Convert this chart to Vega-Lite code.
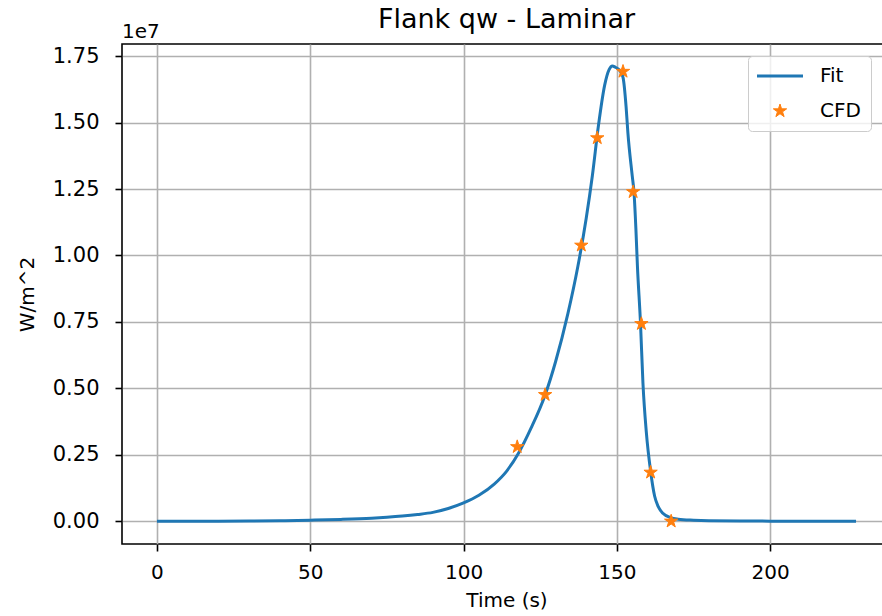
{
  "$schema": "https://vega.github.io/schema/vega-lite/v6.json",
  "autosize": "none",
  "padding": {"left": 122, "top": 44, "right": 0, "bottom": 72},
  "width": 769,
  "height": 500,
  "background": "white",
  "title": {"text": "Flank qw - Laminar", "fontSize": 27, "font": "DejaVu Sans", "fontWeight": "normal", "color": "black", "anchor": "middle", "baseline": "alphabetic", "offset": 0, "dy": 33, "frame": "group"},
  "config": {
    "view": {"stroke": "black", "strokeWidth": 1.6},
    "axis": {
      "grid": true, "gridColor": "#b0b0b0", "gridWidth": 1.6, "gridOpacity": 1,
      "domain": false,
      "ticks": true, "tickColor": "black", "tickSize": 7, "tickWidth": 1.6,
      "labelFont": "DejaVu Sans", "labelFontSize": 20, "labelColor": "black",
      "titleFont": "DejaVu Sans", "titleFontSize": 20, "titleFontWeight": "normal", "titleColor": "black"
    }
  },
  "datasets": {
    "fit": [
      {"t": 0, "q": 0, "series": "Fit"},
      {"t": 20, "q": 5000, "series": "Fit"},
      {"t": 40, "q": 20000, "series": "Fit"},
      {"t": 50, "q": 40000, "series": "Fit"},
      {"t": 60, "q": 70000, "series": "Fit"},
      {"t": 70, "q": 115000, "series": "Fit"},
      {"t": 75, "q": 150000, "series": "Fit"},
      {"t": 80, "q": 195000, "series": "Fit"},
      {"t": 85, "q": 255000, "series": "Fit"},
      {"t": 90, "q": 335000, "series": "Fit"},
      {"t": 95, "q": 480000, "series": "Fit"},
      {"t": 100, "q": 690000, "series": "Fit"},
      {"t": 105, "q": 980000, "series": "Fit"},
      {"t": 110, "q": 1400000, "series": "Fit"},
      {"t": 114, "q": 1880000, "series": "Fit"},
      {"t": 118, "q": 2580000, "series": "Fit"},
      {"t": 122, "q": 3500000, "series": "Fit"},
      {"t": 126.6, "q": 4750000, "series": "Fit"},
      {"t": 130, "q": 6000000, "series": "Fit"},
      {"t": 134, "q": 7800000, "series": "Fit"},
      {"t": 137.3, "q": 9600000, "series": "Fit"},
      {"t": 140, "q": 11400000, "series": "Fit"},
      {"t": 142, "q": 13000000, "series": "Fit"},
      {"t": 144, "q": 14900000, "series": "Fit"},
      {"t": 146, "q": 16400000, "series": "Fit"},
      {"t": 147.5, "q": 17000000, "series": "Fit"},
      {"t": 148.5, "q": 17130000, "series": "Fit"},
      {"t": 149.5, "q": 17080000, "series": "Fit"},
      {"t": 151, "q": 16950000, "series": "Fit"},
      {"t": 152, "q": 16700000, "series": "Fit"},
      {"t": 153, "q": 15600000, "series": "Fit"},
      {"t": 153.6, "q": 14600000, "series": "Fit"},
      {"t": 155, "q": 13000000, "series": "Fit"},
      {"t": 155.6, "q": 12350000, "series": "Fit"},
      {"t": 156.2, "q": 11000000, "series": "Fit"},
      {"t": 156.7, "q": 9600000, "series": "Fit"},
      {"t": 157.7, "q": 7460000, "series": "Fit"},
      {"t": 158.5, "q": 5200000, "series": "Fit"},
      {"t": 159.6, "q": 3350000, "series": "Fit"},
      {"t": 161, "q": 1880000, "series": "Fit"},
      {"t": 162.3, "q": 950000, "series": "Fit"},
      {"t": 163.5, "q": 550000, "series": "Fit"},
      {"t": 165, "q": 300000, "series": "Fit"},
      {"t": 167.7, "q": 130000, "series": "Fit"},
      {"t": 170, "q": 80000, "series": "Fit"},
      {"t": 175, "q": 40000, "series": "Fit"},
      {"t": 180, "q": 20000, "series": "Fit"},
      {"t": 190, "q": 10000, "series": "Fit"},
      {"t": 200, "q": 5000, "series": "Fit"},
      {"t": 228, "q": 0, "series": "Fit"}
    ],
    "cfd": [
      {"t": 117.5, "q": 2800000, "series": "CFD"},
      {"t": 126.6, "q": 4760000, "series": "CFD"},
      {"t": 138.4, "q": 10380000, "series": "CFD"},
      {"t": 143.6, "q": 14420000, "series": "CFD"},
      {"t": 152.0, "q": 16920000, "series": "CFD"},
      {"t": 155.3, "q": 12390000, "series": "CFD"},
      {"t": 158.0, "q": 7430000, "series": "CFD"},
      {"t": 161.0, "q": 1840000, "series": "CFD"},
      {"t": 167.7, "q": 0, "series": "CFD"}
    ],
    "offsetlabel": [{"label": "1e7"}]
  },
  "layer": [
    {
      "data": {"name": "fit"},
      "mark": {"type": "line", "strokeWidth": 3, "interpolate": "monotone"},
      "encoding": {
        "x": {"field": "t", "type": "quantitative",
          "scale": {"domain": [-11.4, 239.4], "nice": false, "zero": false},
          "axis": {"title": "Time (s)", "values": [0, 50, 100, 150, 200], "format": "d", "labelPadding": 11, "titlePadding": 8}},
        "y": {"field": "q", "type": "quantitative",
          "scale": {"domain": [-855000, 17955000], "nice": false, "zero": false},
          "axis": {"title": "W/m^2", "values": [0, 2500000, 5000000, 7500000, 10000000, 12500000, 15000000, 17500000],
            "labelExpr": "format(datum.value / 10000000, '.2f')", "labelFontSize": 21, "labelPadding": 16, "titlePadding": 15}},
        "color": {"field": "series", "type": "nominal",
          "scale": {"domain": ["Fit", "CFD"], "range": ["#1f77b4", "#ff7f0e"]},
          "legend": {
            "orient": "none", "legendX": 626, "legendY": 12, "title": null,
            "labelFont": "DejaVu Sans", "labelFontSize": 20, "labelColor": "black",
            "padding": 10, "rowPadding": 15, "labelOffset": 30, "symbolOffset": 12,
            "symbolSize": 2116,
            "strokeColor": "#cccccc", "fillColor": "rgba(255,255,255,0.8)", "cornerRadius": 4,
            "symbolType": "stroke",
            "encode": {"symbols": {"update": {
              "shape": {"signal": "datum.value === 'Fit' ? 'stroke' : 'M0,-1L0.2245,-0.309L0.951,-0.309L0.363,0.118L0.588,0.809L0,0.382L-0.588,0.809L-0.363,0.118L-0.951,-0.309L-0.2245,-0.309Z'"},
              "size": {"signal": "datum.value === 'Fit' ? 2116 : 196"},
              "fill": {"signal": "datum.value === 'Fit' ? 'transparent' : '#ff7f0e'"},
              "stroke": {"signal": "datum.value === 'Fit' ? '#1f77b4' : '#ff7f0e'"},
              "strokeWidth": {"signal": "datum.value === 'Fit' ? 3 : 1"},
              "opacity": {"value": 1}
            }}}
          }}
      }
    },
    {
      "data": {"name": "cfd"},
      "mark": {"type": "point", "filled": true, "size": 196, "opacity": 1, "shape": "M0,-1L0.2245,-0.309L0.951,-0.309L0.363,0.118L0.588,0.809L0,0.382L-0.588,0.809L-0.363,0.118L-0.951,-0.309L-0.2245,-0.309Z", "strokeWidth": 1},
      "encoding": {
        "x": {"field": "t", "type": "quantitative"},
        "y": {"field": "q", "type": "quantitative"},
        "color": {"field": "series", "type": "nominal"},
        "stroke": {"field": "series", "type": "nominal", "scale": {"domain": ["Fit", "CFD"], "range": ["#1f77b4", "#ff7f0e"]}, "legend": null}
      }
    },
    {
      "data": {"name": "offsetlabel"},
      "mark": {"type": "text", "align": "left", "baseline": "alphabetic", "dy": -6, "font": "DejaVu Sans", "fontSize": 20, "fill": "black", "opacity": 1},
      "encoding": {
        "x": {"datum": -11.4},
        "y": {"datum": 17955000},
        "text": {"field": "label", "type": "nominal"}
      }
    }
  ]
}
